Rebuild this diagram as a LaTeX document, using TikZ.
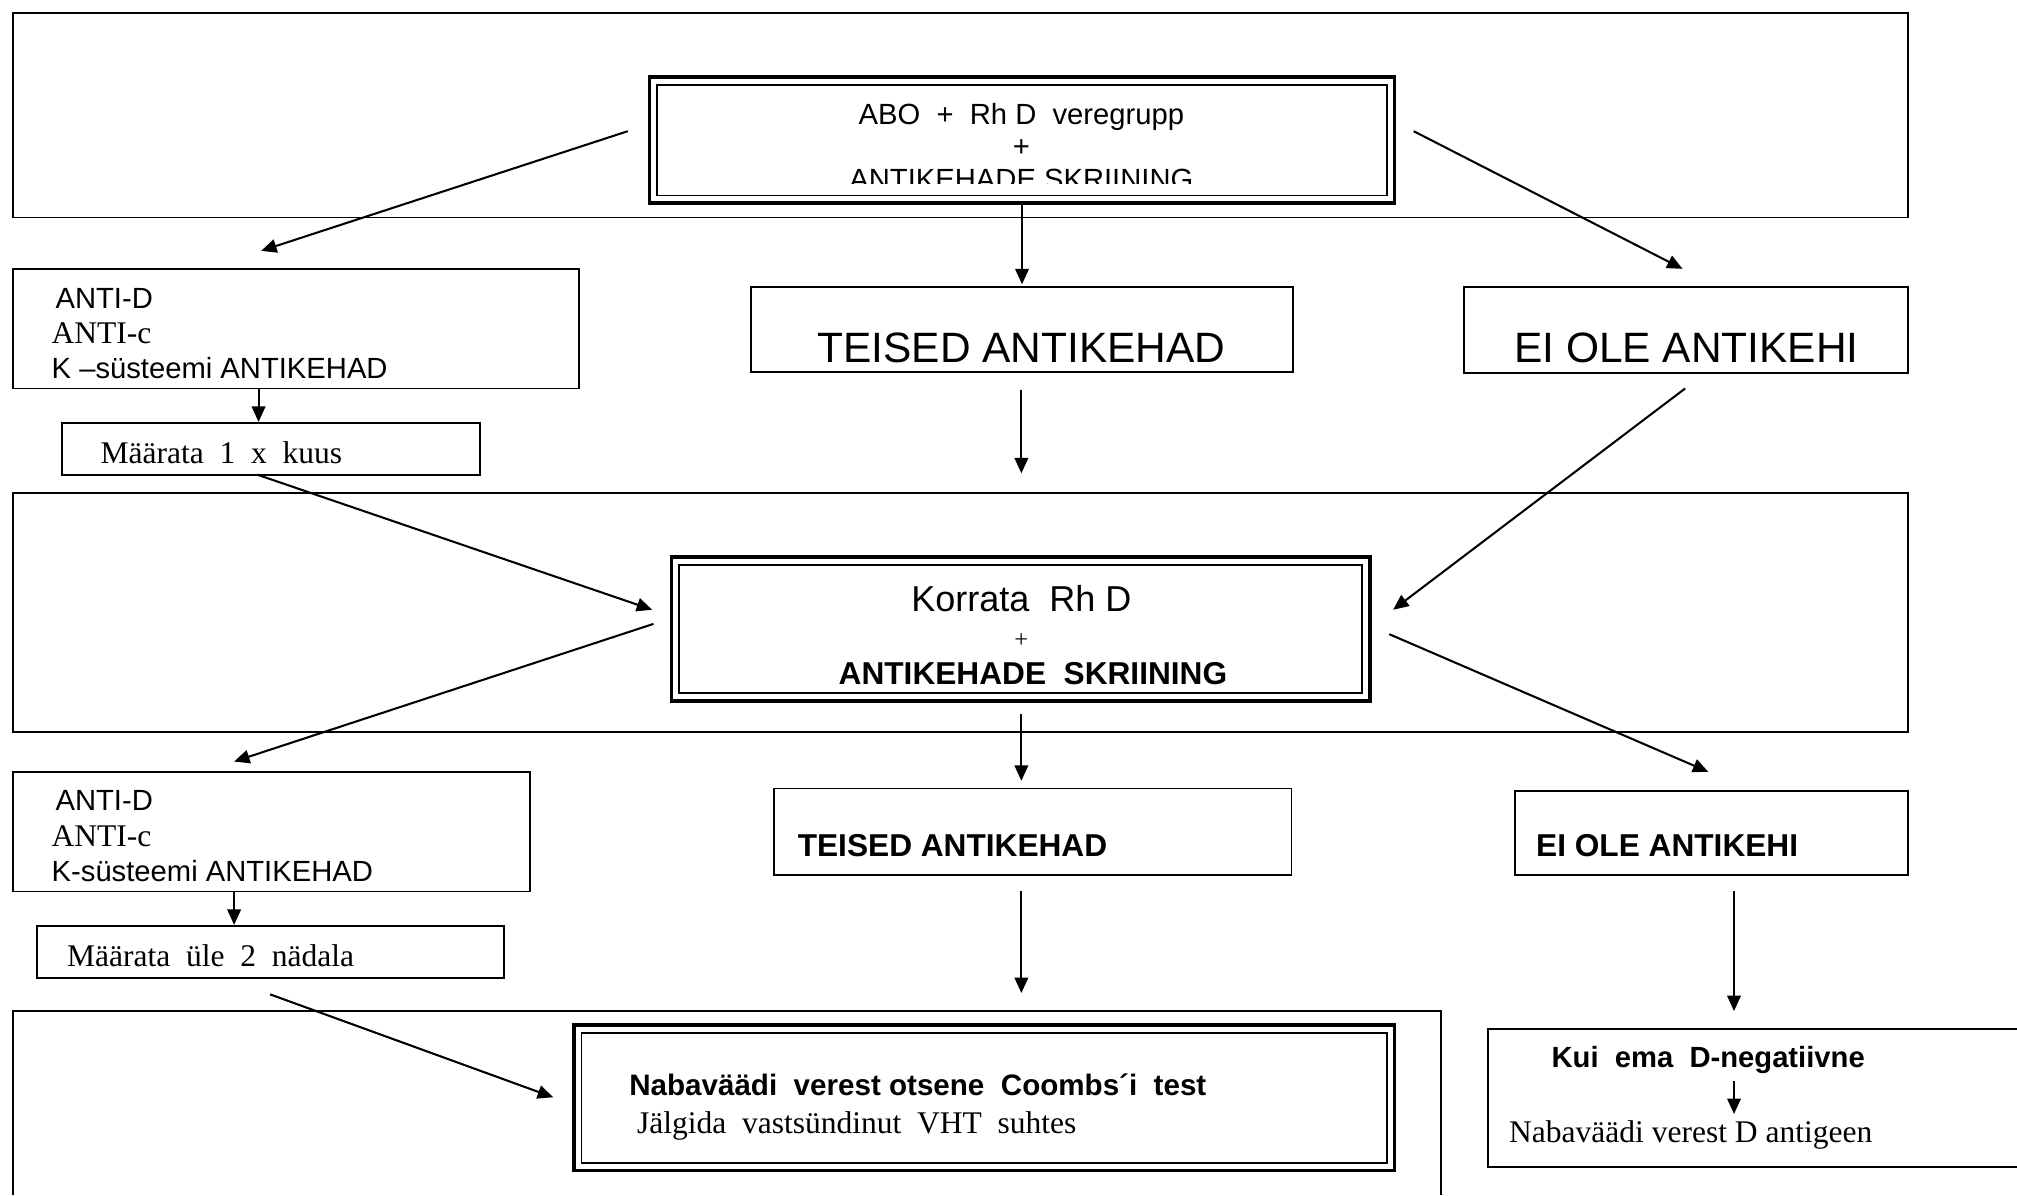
\documentclass[tikz,border=0pt]{standalone}
\usepackage{fontspec}
\setmainfont{Liberation Serif}
\newfontfamily\arial{Liberation Sans}
\usetikzlibrary{arrows.meta}
\newcommand{\fs}[1]{\fontsize{#1}{#1}\selectfont}
\tikzset{
  box/.style={draw, line width=1.4pt, anchor=north west, inner sep=0pt, outer sep=0pt},
  dbox/.style={box, line width=2.8pt},
  arr/.style={line width=1.6pt, -{Triangle[length=12pt,width=10.5pt]}},
  txt/.style={anchor=base west, inner sep=0pt},
  ctxt/.style={anchor=base, inner sep=0pt},
  sans/.style={font=\arial\fs{22.7}},
  sansbig/.style={font=\arial\fs{33}},
  sansb/.style={font=\arial\bfseries\fs{24.6}},
  serif/.style={font=\fs{24.5}},
}
\begin{document}
\begin{tikzpicture}[x=1pt,y=-1pt]
\useasboundingbox (0,0) rectangle (1568,929);
% bands
\node[box, line width=1.3pt, minimum width=1473pt, minimum height=159pt] (band1) at (10,10) {};
\node[box, line width=1.3pt, minimum width=1473pt, minimum height=186pt] (band2) at (10,383) {};
\draw[line width=1.3pt] (10,929) -- (10,786) -- (1120,786) -- (1120,929);
% top double box
\node[dbox, minimum width=579pt, minimum height=98pt] (top) at (505,60) {};
\draw[line width=1.4pt] ([xshift=6pt,yshift=-6pt]top.north west) rectangle ([xshift=-6pt,yshift=6pt]top.south east);
\node[ctxt, sans] (t1) at (794,97) {ABO~~+~~Rh~D~~veregrupp};
\node[ctxt, sans] (t2) at (794,122) {+};
\begin{scope}
\clip (505,60) rectangle (1084,143);
\node[ctxt, sans] (t3) at (794,147) {ANTIKEHADE SKRIINING};
\end{scope}
% row 1
\node[box, minimum width=440pt, minimum height=93pt] (anti1) at (10,209) {};
\node[txt, sans] (anti1a) at (43,240) {ANTI-D};
\node[txt, serif] (anti1b) at (40,267) {ANTI-c};
\node[txt, sans] (anti1c) at (40,294) {K –süsteemi ANTIKEHAD};
\node[box, minimum width=325pt, minimum height=40pt] (maar1) at (48,329) {};
\node[txt, serif] (maar1t) at (78,360) {Määrata~~1~~x~~kuus};
\node[box, minimum width=421pt, minimum height=66pt] (teised1) at (584,223) {};
\node[ctxt, sansbig] (teised1t) at (794,282) {TEISED ANTIKEHAD};
\node[box, minimum width=345pt, minimum height=67pt] (eiole1) at (1138,223) {};
\node[ctxt, sansbig] (eiole1t) at (1311,282) {EI OLE ANTIKEHI};
% middle double box
\node[dbox, minimum width=543pt, minimum height=112pt] (korr) at (522,433) {};
\draw[line width=1.4pt] ([xshift=6pt,yshift=-6pt]korr.north west) rectangle ([xshift=-6pt,yshift=6pt]korr.south east);
\node[ctxt, font=\arial\fs{28}] (k1) at (794,475) {Korrata~~Rh~D};
\node[ctxt, font=\fs{19}] (k2) at (794,503) {+};
\node[ctxt, sansb] (k3) at (803,532) {ANTIKEHADE~~SKRIINING};
% row 2
\node[box, minimum width=402pt, minimum height=93pt] (anti2) at (10,600) {};
\node[txt, sans] (anti2a) at (43,630) {ANTI-D};
\node[txt, serif] (anti2b) at (40,658) {ANTI-c};
\node[txt, sans] (anti2c) at (40,685) {K-süsteemi ANTIKEHAD};
\node[box, minimum width=363pt, minimum height=40pt] (maar2) at (29,720) {};
\node[txt, serif] (maar2t) at (52,751) {Määrata~~üle~~2~~nädala};
\node[box, minimum width=402pt, minimum height=67pt] (teised2) at (602,613) {};
\node[txt, sansb] (teised2t) at (620,666) {TEISED ANTIKEHAD};
\node[box, minimum width=305pt, minimum height=65pt] (eiole2) at (1178,615) {};
\node[txt, sansb] (eiole2t) at (1194,666) {EI OLE ANTIKEHI};
% bottom double box
\node[dbox, minimum width=638pt, minimum height=113pt] (naba) at (446,797) {};
\draw[line width=1.4pt] ([xshift=6pt,yshift=-6pt]naba.north west) rectangle ([xshift=-6pt,yshift=6pt]naba.south east);
\node[txt, font=\arial\bfseries\fs{23}] (naba1) at (489,852) {Nabaväädi~~verest otsene~~Coombs´i~~test};
\node[txt, serif] (naba2) at (495,881) {Jälgida~~vastsündinut~~VHT~~suhtes};
% kui box (open to the right)
\draw[line width=1.4pt] (1568,800) -- (1157,800) -- (1157,907) -- (1568,907);
\node[txt, font=\arial\bfseries\fs{22.7}] (kui1) at (1206,830) {Kui~~ema~~D-negatiivne};
\node[txt, serif] (kui2) at (1173,888) {Nabaväädi verest D antigeen};
% arrow end points
\coordinate (a1s) at (488,102); \coordinate (a1e) at (203,195);
\coordinate (a3s) at (1099,102); \coordinate (a3e) at (1308,209);
\coordinate (a5s) at (200,369); \coordinate (a5e) at (507,474);
\coordinate (a6s) at (794,303); \coordinate (a6e) at (794,368);
\coordinate (a7s) at (1310,302); \coordinate (a7e) at (1083,474);
\coordinate (a8s) at (508,485); \coordinate (a8e) at (182,592);
\coordinate (a10s) at (1080,493); \coordinate (a10e) at (1328,600);
\coordinate (a12s) at (210,773); \coordinate (a12e) at (430,853);
\coordinate (a13s) at (794,693); \coordinate (a13e) at (794,772);
\coordinate (a14s) at (1348,693); \coordinate (a14e) at (1348,786);
\coordinate (a15s) at (1348,840); \coordinate (a15e) at (1348,866);
% arrows
\draw[arr] (a1s) -- (a1e);
\draw[arr] (top.south) -- ([yshift=2pt]teised1.north);
\draw[arr] (a3s) -- (a3e);
\draw[arr] (anti1.south -| 201,0) -- ([yshift=1pt]maar1.north -| 201,0);
\draw[arr] (a5s) -- (a5e);
\draw[arr] (a6s) -- (a6e);
\draw[arr] (a7s) -- (a7e);
\draw[arr] (a8s) -- (a8e);
\draw[arr] ([yshift=-10pt]korr.south -| 794,0) -- ([yshift=6pt]teised2.north -| 794,0);
\draw[arr] (a10s) -- (a10e);
\draw[arr] (anti2.south -| 182,0) -- ([yshift=1pt]maar2.north -| 182,0);
\draw[arr] (a12s) -- (a12e);
\draw[arr] (a13s) -- (a13e);
\draw[arr] (a14s) -- (a14e);
\draw[arr] (a15s) -- (a15e);
\end{tikzpicture}
\end{document}
